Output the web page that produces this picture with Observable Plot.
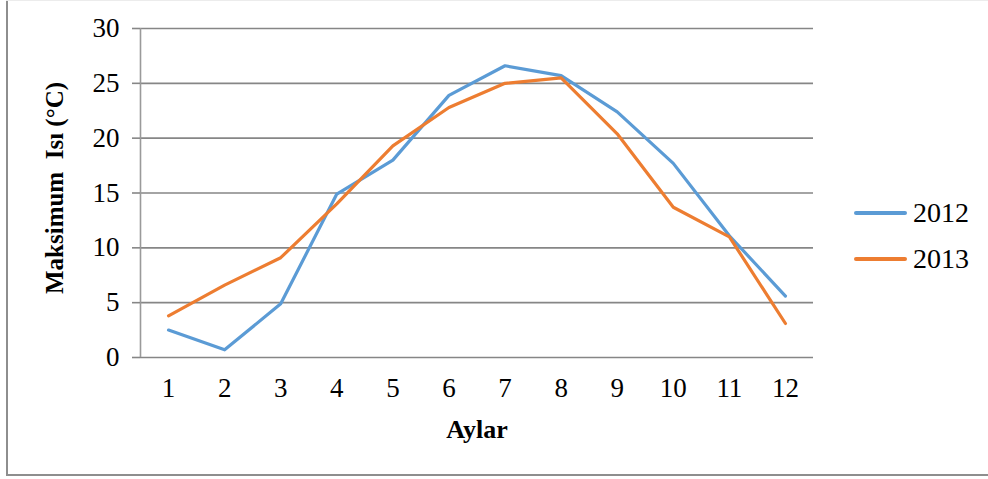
<!DOCTYPE html>
<html>
<head>
<meta charset="utf-8">
<script src="https://cdn.jsdelivr.net/npm/d3@7"></script>
<script src="https://cdn.jsdelivr.net/npm/@observablehq/plot@0.6"></script>
<style>
  html, body { margin: 0; padding: 0; background: #fff; }
  #wrap { position: relative; width: 988px; height: 479px; font-family: "Liberation Serif", "Times New Roman", serif; }
  #wrap svg { position: absolute; left: 0; top: 0; overflow: visible; }
  .edge { position: absolute; background: #8e8e8e; }
  .legend { position: absolute; left: 854px; font-size: 28px; color: #000; line-height: 1; }
  .legend .item { position: absolute; display: flex; align-items: center; white-space: nowrap; }
  .legend .swatch { width: 53px; height: 4px; border-radius: 2px; margin-right: 6px; }
</style>
</head>
<body>
<div id="wrap"></div>
<script>
// Monthly maximum temperature (°C), two years
const months = [1, 2, 3, 4, 5, 6, 7, 8, 9, 10, 11, 12];
const max2012 = [2.5, 0.7, 4.9, 14.9, 18.0, 23.9, 26.6, 25.7, 22.4, 17.7, 11.1, 5.6];
const max2013 = [3.8, 6.6, 9.1, 14.0, 19.3, 22.8, 25.0, 25.5, 20.4, 13.7, 11.0, 3.1];
const seriesNames = ["2012", "2013"];
const seriesColors = ["#5B9BD5", "#ED7D31"];
const yTicks = [0, 5, 10, 15, 20, 25, 30];
const xTitle = "Aylar";
const yTitle = "Maksimum\u00a0 Isı (°C)";

const rows = [];
[max2012, max2013].forEach((vals, i) => {
  months.forEach((m, j) => rows.push({ series: seriesNames[i], month: m, value: vals[j] }));
});

const serif = "Liberation Serif, Times New Roman, serif";
const gridColor = "#868686";

const chart = Plot.plot({
  width: 988,
  height: 479,
  marginLeft: 140,
  marginRight: 175,
  marginTop: 28,
  marginBottom: 122,
  style: { fontFamily: serif, background: "transparent", color: "#000" },
  x: { domain: [0.5, 12.5], axis: null },
  y: { domain: [0, 30], axis: null },
  color: { domain: seriesNames, range: seriesColors },
  marks: [
    // horizontal gridlines
    Plot.ruleY(yTicks, { stroke: gridColor, strokeWidth: 1.6 }),
    // vertical axis line
    Plot.ruleX([0.5], { stroke: "#9a9a9a", strokeWidth: 1.6 }),
    Plot.axisY({
      ticks: yTicks, tickSize: 8, tickPadding: 13, stroke: gridColor, strokeWidth: 1.6,
      fontSize: 27, fill: "#000", label: null, tickFormat: d => String(d)
    }),
    Plot.axisX({
      ticks: months, tickSize: 0, tickPadding: 20,
      fontSize: 27, fill: "#000", label: null, tickFormat: d => String(d)
    }),
    Plot.line(rows, {
      x: "month", y: "value", z: "series", stroke: "series",
      strokeWidth: 3.2, strokeLinejoin: "round", strokeLinecap: "round"
    }),
    // rotated y-axis title, left of the tick labels
    Plot.text([yTitle], {
      frameAnchor: "left", rotate: -90, textAnchor: "middle", dx: -86, dy: -5,
      fontSize: 25, fontWeight: "bold", fill: "#000", fontFamily: serif,
      letterSpacing: "0.9px"
    }),
    Plot.text([xTitle], {
      frameAnchor: "bottom", dy: 80,
      fontSize: 26, fontWeight: "bold", fill: "#000", fontFamily: serif
    })
  ]
});

const wrap = document.getElementById("wrap");
wrap.appendChild(chart);

// outer chart border (left and bottom edges, faint top)
function edge(x, y, w, h, color) {
  const el = document.createElement("div");
  el.className = "edge";
  Object.assign(el.style, { left: x + "px", top: y + "px", width: w + "px", height: h + "px" });
  if (color) el.style.background = color;
  wrap.appendChild(el);
}
edge(6, 0, 2, 476);
edge(6, 474, 982, 2);
edge(6, 0, 982, 1, "#ececec");

// legend
const legend = document.createElement("div");
legend.className = "legend";
legend.style.top = "0px";
seriesNames.forEach((name, i) => {
  const item = document.createElement("div");
  item.className = "item";
  item.style.top = (i === 0 ? 199 : 245) + "px";
  const sw = document.createElement("div");
  sw.className = "swatch";
  sw.style.background = seriesColors[i];
  const label = document.createElement("span");
  label.textContent = name;
  item.append(sw, label);
  legend.appendChild(item);
});
wrap.appendChild(legend);
</script>
</body>
</html>
